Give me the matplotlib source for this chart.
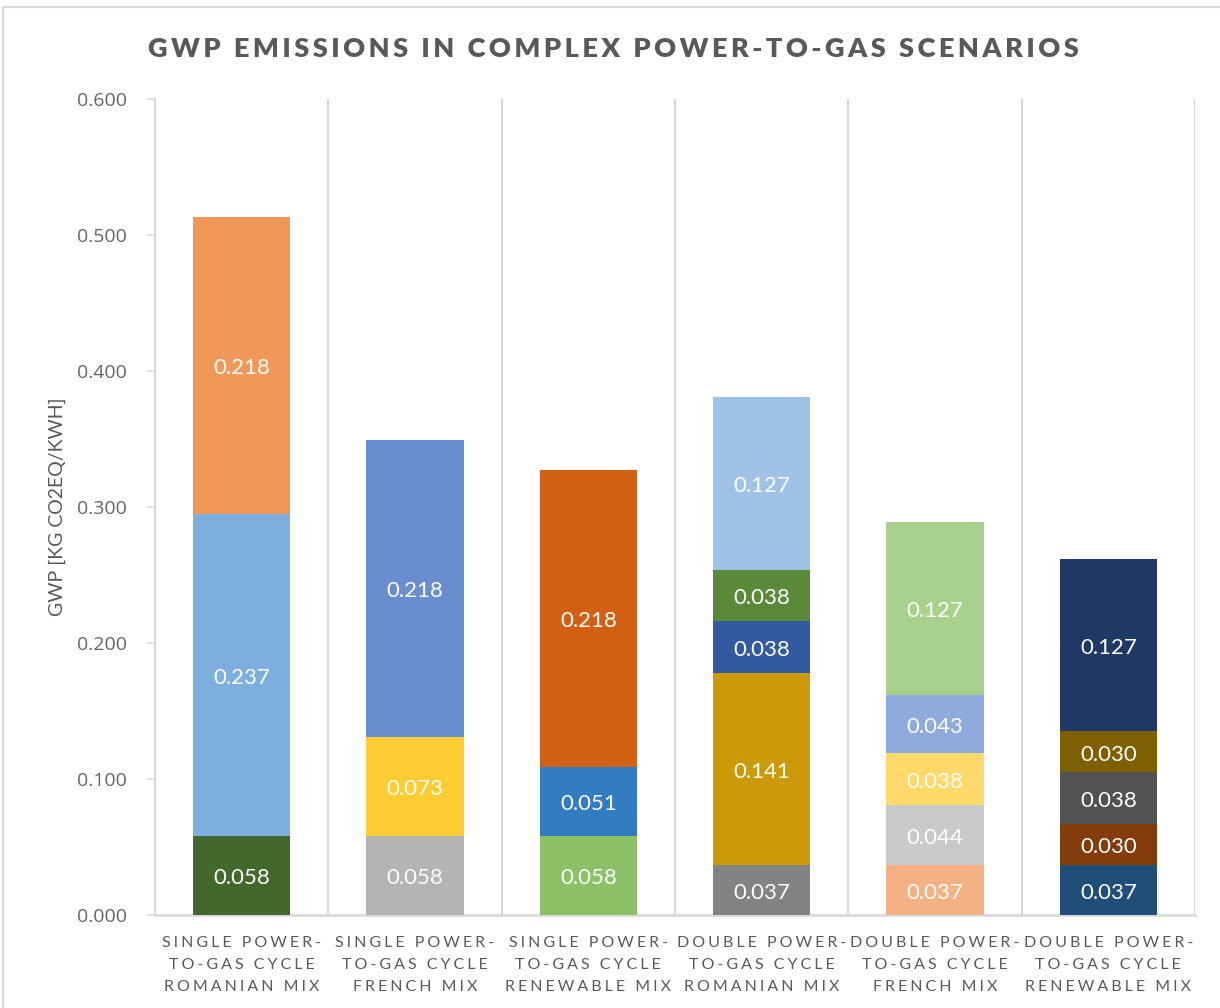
import matplotlib
matplotlib.use("Agg")
import matplotlib.pyplot as plt
from matplotlib.patches import Rectangle

# Scenario names (one per bar)
categories = [
    "SINGLE POWER-\nTO-GAS CYCLE\nROMANIAN MIX",
    "SINGLE POWER-\nTO-GAS CYCLE\nFRENCH MIX",
    "SINGLE POWER-\nTO-GAS CYCLE\nRENEWABLE MIX",
    "DOUBLE POWER-\nTO-GAS CYCLE\nROMANIAN MIX",
    "DOUBLE POWER-\nTO-GAS CYCLE\nFRENCH MIX",
    "DOUBLE POWER-\nTO-GAS CYCLE\nRENEWABLE MIX",
]

# Stacked contributions per scenario, bottom to top [kg CO2eq/kWh]
single_romanian = [0.058, 0.237, 0.218]
single_french = [0.058, 0.073, 0.218]
single_renewable = [0.058, 0.051, 0.218]
double_romanian = [0.037, 0.141, 0.038, 0.038, 0.127]
double_french = [0.037, 0.044, 0.038, 0.043, 0.127]
double_renewable = [0.037, 0.030, 0.038, 0.030, 0.127]

segment_colors = [
    ["#43682B", "#7DAFDE", "#F0975A"],
    ["#B4B4B4", "#FFCD33", "#698ED0"],
    ["#8CC168", "#327DC2", "#D26012"],
    ["#838383", "#CC9A06", "#335AA1", "#5A8A39", "#9FC2E6"],
    ["#F4B183", "#C9C9C9", "#FFDA6A", "#8FAADC", "#A9D18E"],
    ["#1F4E79", "#843C0C", "#525252", "#7F6000", "#203864"],
]

y_ticks = [0.0, 0.1, 0.2, 0.3, 0.4, 0.5, 0.6]

stacks = [single_romanian, single_french, single_renewable,
          double_romanian, double_french, double_renewable]

HAIR = "\u200a"


def tracked(s, n=1):
    """Widen letter spacing by inserting hair spaces between characters."""
    sep = HAIR * n
    return "\n".join(sep.join(line) for line in s.split("\n"))


TXT = "#595959"
GRID = "#D9D9D9"
FONT = ["Lato", "DejaVu Sans"]

fig = plt.figure(figsize=(12.2, 10.08), dpi=100)
fig.patch.set_facecolor("white")

# chart-area frame
fig.add_artist(Rectangle((3 / 1220, -0.01), 1.02, 1 - 7 / 1008 + 0.01,
                         transform=fig.transFigure, fill=False,
                         edgecolor=GRID, linewidth=1.5))

ax = fig.add_axes([155 / 1220, 93 / 1008, 1040 / 1220, 816 / 1008])

width = 0.56
for i, (vals, cols) in enumerate(zip(stacks, segment_colors)):
    bottom = 0.0
    for v, c in zip(vals, cols):
        ax.bar(i, v, width=width, bottom=bottom, color=c, edgecolor="none", zorder=3)
        ax.annotate(f"{v:.3f}", (i, bottom + v / 2), xytext=(0, -2),
                    textcoords="offset points", ha="center", va="center",
                    color="white", fontsize=16, family=FONT, zorder=4)
        bottom += v

# category separators
for xb in [k - 0.5 for k in range(len(categories) + 1)]:
    ax.axvline(xb, color=GRID, linewidth=1.5, zorder=1)

ax.set_xlim(-0.5, len(categories) - 0.5)
ax.set_ylim(0, 0.6)
ax.set_yticks(y_ticks)
ax.set_yticklabels([f"{t:.3f}" for t in y_ticks], fontsize=14,
                   family=["Open Sans", "DejaVu Sans"], color="#666666")
ax.tick_params(axis="y", length=6, color=GRID, width=1.2, pad=14)
ax.set_xticks(range(len(categories)))
ax.set_xticklabels([tracked(c, 3) for c in categories], fontsize=11.5,
                   family=FONT, color=TXT, linespacing=1.75)
ax.tick_params(axis="x", length=0, pad=15)

for side in ["top", "right"]:
    ax.spines[side].set_visible(False)
ax.spines["left"].set_color(GRID)
ax.spines["left"].set_linewidth(1.5)
ax.spines["bottom"].set_color(GRID)
ax.spines["bottom"].set_linewidth(2)

ax.set_ylabel("GWP [KG CO2EQ/KWH]", fontsize=14, family=FONT,
              color=TXT, labelpad=8)

fig.text(0.503, 1 - 49 / 1008, tracked("GWP EMISSIONS IN COMPLEX POWER-TO-GAS SCENARIOS", 2),
         ha="center", va="center", fontsize=19.5, fontweight="heavy",
         family=FONT, color=TXT)

fig.savefig("out.png", dpi=100, facecolor="white")
